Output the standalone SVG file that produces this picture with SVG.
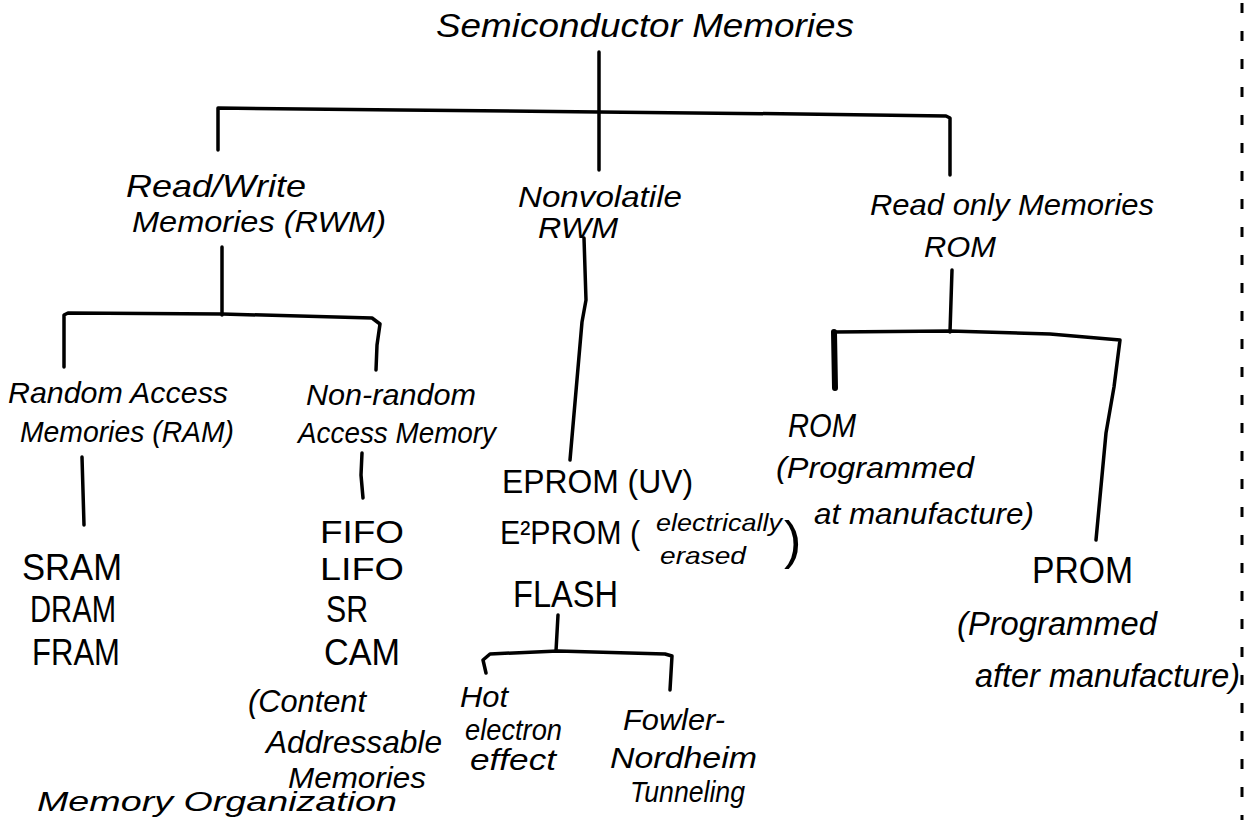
<svg xmlns="http://www.w3.org/2000/svg" width="1260" height="820" viewBox="0 0 1260 820">
<style>
text{font-family:"Liberation Sans","DejaVu Sans",sans-serif;fill:#000;}
.h{font-style:italic;font-size:30px;}
.c{font-size:36px;}
.l{font-size:32px;}
.s{font-style:italic;font-size:24px;}
.ln{fill:none;stroke:#000;stroke-width:3.5;stroke-linecap:round;stroke-linejoin:round;}
.dash{fill:none;stroke:#000;stroke-width:3;stroke-dasharray:10 18;}
</style>
<rect width="1260" height="820" fill="#fff"/>
<g id="connectors">
<path class="ln" d="M599,52 L599,170"/>
<path class="ln" d="M218,150 L218,108 L400,110 L599,112 L800,114 L946,116 L950,118 L950,175"/>
<path class="ln" d="M222,247 L222,315"/>
<path class="ln" d="M64,367 L64,315 L68,313 L222,314 L372,318 L380,324 L377,345 L376,370"/>
<path class="ln" d="M584,238 L586,300 L582,322 L570,460"/>
<path class="ln" d="M952,270 L950,332"/>
<path class="ln" d="M834,332 L950,331 L1050,334 L1120,340 L1114,387 L1106,433 L1096,540"/>
<path class="ln" style="stroke-width:6" d="M834,332 L835,388"/>
<path class="ln" d="M82,457 L84,525"/>
<path class="ln" d="M362,453 L361,475 L363,498"/>
<path class="ln" d="M558,615 L556,651"/>
<path class="ln" d="M486,673 L483,660 L490,654 L558,651 L665,654 L672,656 L670,690"/>
<path class="dash" d="M1242,3 L1242,820"/>
</g>
<g id="root"><text class="h" x="436" y="37" textLength="418" lengthAdjust="spacingAndGlyphs" style="font-size:34px">Semiconductor Memories</text></g>
<g id="rwm">
<text class="h" x="126" y="197" textLength="180" lengthAdjust="spacingAndGlyphs" style="font-size:32px">Read/Write</text>
<text class="h" x="132" y="232" textLength="254" lengthAdjust="spacingAndGlyphs">Memories (RWM)</text>
</g>
<g id="nvrwm">
<text class="h" x="518" y="207" textLength="164" lengthAdjust="spacingAndGlyphs">Nonvolatile</text>
<text class="h" x="538" y="238" textLength="80" lengthAdjust="spacingAndGlyphs">RWM</text>
</g>
<g id="rom-group">
<text class="h" x="870" y="215" textLength="284" lengthAdjust="spacingAndGlyphs">Read only Memories</text>
<text class="h" x="924" y="257" textLength="72" lengthAdjust="spacingAndGlyphs">ROM</text>
</g>
<g id="ram">
<text class="h" x="8" y="403" textLength="220" lengthAdjust="spacingAndGlyphs">Random Access</text>
<text class="h" x="20" y="442" textLength="214" lengthAdjust="spacingAndGlyphs">Memories (RAM)</text>
</g>
<g id="nonrandom">
<text class="h" x="306" y="405" textLength="170" lengthAdjust="spacingAndGlyphs">Non-random</text>
<text class="h" x="298" y="443" textLength="198" lengthAdjust="spacingAndGlyphs">Access Memory</text>
</g>
<g id="ram-types">
<text class="c" x="22" y="580" textLength="100" lengthAdjust="spacingAndGlyphs">SRAM</text>
<text class="c" x="30" y="622" textLength="86" lengthAdjust="spacingAndGlyphs">DRAM</text>
<text class="c" x="32" y="665" textLength="88" lengthAdjust="spacingAndGlyphs">FRAM</text>
</g>
<g id="nonrandom-types">
<text class="l" x="320" y="543" textLength="84" lengthAdjust="spacingAndGlyphs">FIFO</text>
<text class="l" x="320" y="580" textLength="84" lengthAdjust="spacingAndGlyphs">LIFO</text>
<text class="c" x="326" y="622" textLength="42" lengthAdjust="spacingAndGlyphs">SR</text>
<text class="c" x="324" y="665" textLength="76" lengthAdjust="spacingAndGlyphs">CAM</text>
<text class="h" x="248" y="712" textLength="118" lengthAdjust="spacingAndGlyphs" style="font-size:32px">(Content</text>
<text class="h" x="266" y="753" textLength="176" lengthAdjust="spacingAndGlyphs" style="font-size:32px">Addressable</text>
<text class="h" x="288" y="788" textLength="138" lengthAdjust="spacingAndGlyphs" style="font-size:30px">Memories</text>
</g>
<g id="nv-types">
<text class="l" x="502" y="493" textLength="191" lengthAdjust="spacingAndGlyphs" style="font-size:34px">EPROM (UV)</text>
<text class="l" x="500" y="544" textLength="140" lengthAdjust="spacingAndGlyphs" style="font-size:34px">E²PROM (</text>
<text class="s" x="656" y="531" textLength="126" lengthAdjust="spacingAndGlyphs">electrically</text>
<text class="s" x="660" y="564" textLength="86" lengthAdjust="spacingAndGlyphs">erased</text>
<text class="c" x="784" y="558" style="font-size:52px">)</text>
<text class="c" x="513" y="607" textLength="105" lengthAdjust="spacingAndGlyphs">FLASH</text>
</g>
<g id="hot-electron">
<text class="h" x="460" y="707" textLength="48" lengthAdjust="spacingAndGlyphs">Hot</text>
<text class="h" x="465" y="740" textLength="97" lengthAdjust="spacingAndGlyphs">electron</text>
<text class="h" x="470" y="770" textLength="86" lengthAdjust="spacingAndGlyphs">effect</text>
</g>
<g id="fowler">
<text class="h" x="623" y="730" textLength="102" lengthAdjust="spacingAndGlyphs">Fowler-</text>
<text class="h" x="610" y="768" textLength="147" lengthAdjust="spacingAndGlyphs">Nordheim</text>
<text class="h" x="630" y="802" textLength="115" lengthAdjust="spacingAndGlyphs">Tunneling</text>
</g>
<g id="rom">
<text class="h" x="788" y="437" textLength="68" lengthAdjust="spacingAndGlyphs" style="font-size:34px">ROM</text>
<text class="h" x="776" y="478" textLength="198" lengthAdjust="spacingAndGlyphs">(Programmed</text>
<text class="h" x="814" y="524" textLength="220" lengthAdjust="spacingAndGlyphs">at manufacture)</text>
</g>
<g id="prom">
<text class="c" x="1032" y="583" textLength="101" lengthAdjust="spacingAndGlyphs">PROM</text>
<text class="h" x="957" y="635" textLength="200" lengthAdjust="spacingAndGlyphs" style="font-size:34px">(Programmed</text>
<text class="h" x="975" y="687" textLength="265" lengthAdjust="spacingAndGlyphs" style="font-size:34px">after manufacture)</text>
</g>
<g id="footer">
<text class="h" x="37" y="811" textLength="360" lengthAdjust="spacingAndGlyphs" style="font-size:28px">Memory Organization</text>
</g>
</svg>
